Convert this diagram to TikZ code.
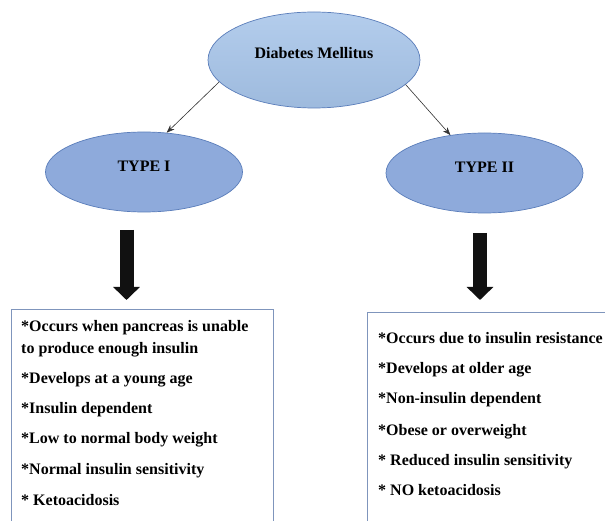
\documentclass[tikz,border=0pt]{standalone}
\usepackage{fontspec}
\setmainfont{Liberation Serif}
\usetikzlibrary{arrows.meta,shapes.geometric}

\definecolor{topblue}{HTML}{A6C4E9}
\definecolor{typeblue}{HTML}{8EAADB}
\definecolor{rimblue}{HTML}{5A7DBA}
\definecolor{boxrim}{HTML}{7F95BC}
\definecolor{fatblack}{HTML}{111111}

\tikzset{
	ell/.style={ellipse,draw=rimblue,line width=0.7pt,inner sep=0pt},
	topell/.style={ell,top color=topblue!85!white,bottom color=topblue!95!black,minimum width=212pt,minimum height=96pt,text height=11pt,text depth=13pt},
	typeell/.style={ell,fill=typeblue,minimum width=197pt,minimum height=80pt,text height=11pt,text depth=11pt},
	listbox/.style={draw=boxrim,line width=0.9pt},
	item/.style={anchor=base west,inner sep=0pt},
	thin arrow/.style={-{Stealth[length=8pt,width=6pt]},line width=0.6pt,draw=black!80},
	fat arrow/.style={-{Triangle[length=13pt,width=26pt]},line width=14pt,draw=fatblack}
}

\begin{document}
\begin{tikzpicture}[x=1pt,y=-1pt,every node/.style={font=\fontsize{16}{18}\selectfont\bfseries}]
		\useasboundingbox[fill=white] (0,0) rectangle (605,521);

		\node[topell] (dm) at (314,60) {Diabetes Mellitus};
		\node[typeell] (t1) at (144,172) {TYPE I};
		\node[typeell] (t2) at (484.5,173) {TYPE II};

		\draw[thin arrow] (dm.193) -- (t1.60);
		\draw[thin arrow] (dm.345) -- (t2.132);

		\coordinate (f1s) at (126.5,230);
		\coordinate (f1e) at (126.5,300);
		\coordinate (f2s) at (480,233);
		\coordinate (f2e) at (480,300);
		\draw[fat arrow] (f1s) -- (f1e);
		\draw[fat arrow] (f2s) -- (f2e);

		\draw[listbox] (11,309) rectangle (273,540);
		\draw[listbox] (367,312) rectangle (620,540);

		\foreach \nm/\yy/\txt in {l1/331/{*Occurs when pancreas is unable}, l2/353/{to produce enough insulin}, l3/383/{*Develops at a young age}, l4/413/{*Insulin dependent}, l5/443/{*Low to normal body weight}, l6/474/{*Normal insulin sensitivity}, l7/505/{* Ketoacidosis}}
		{
			\node[item] (\nm) at (21,\yy) {\txt};
		}

		\foreach \nm/\yy/\txt in {r1/343/{*Occurs due to insulin resistance}, r2/373/{*Develops at older age}, r3/403/{*Non-insulin dependent}, r4/435/{*Obese or overweight}, r5/465/{* Reduced insulin sensitivity}, r6/495/{* NO ketoacidosis}}
		{
			\node[item] (\nm) at (378,\yy) {\txt};
		}

	\end{tikzpicture}
\end{document}
